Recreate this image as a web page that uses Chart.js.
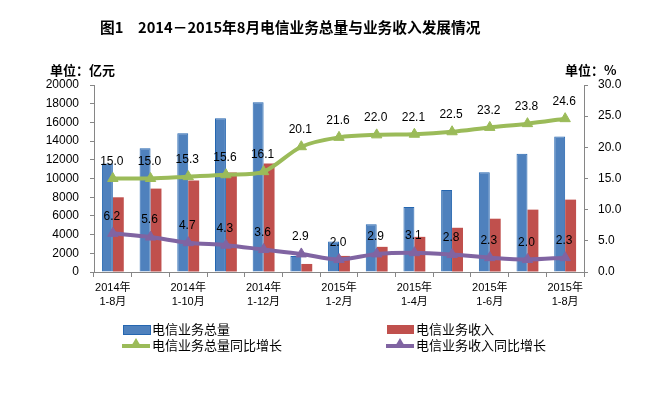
<!DOCTYPE html>
<html>
<head>
<meta charset="utf-8">
<script src="https://cdn.jsdelivr.net/npm/chart.js@4.4.0/dist/chart.umd.min.js"></script>
<style>
  body { margin: 0; background: #fff; font-family: "Noto Sans CJK SC", sans-serif; }
  #wrap { position: relative; width: 664px; height: 396px; }
  canvas { position: absolute; left: 0; top: 0; }
  .txt { position: absolute; white-space: nowrap; color: #000; }
  #title { left: 100px; top: 16px; font-size: 14.7px; font-weight: bold; }
  .unit { top: 60px; font-size: 13px; font-weight: bold; }
  .leg { position: absolute; font-size: 13px; white-space: nowrap; }
  .sw { position: absolute; }
  .tri { position: absolute; width: 0; height: 0; border-left: 6px solid transparent; border-right: 6px solid transparent; }
</style>
</head>
<body>
<div id="wrap">
  <canvas id="c" width="664" height="396"></canvas>
  <div class="txt" id="title">图1　2014－2015年8月电信业务总量与业务收入发展情况</div>
  <div class="txt unit" style="left:50px;">单位：亿元</div>
  <div class="txt unit" style="left:565px;">单位：%</div>

  <div class="sw" style="left:123px;top:325px;width:26px;height:8px;background:#4F81BD;border:1px solid #2566B0;"></div>
  <div class="leg" style="left:152px;top:319px;">电信业务总量</div>
  <div class="sw" style="left:387px;top:325px;width:27px;height:9px;background:#C0504D;"></div>
  <div class="leg" style="left:416px;top:319px;">电信业务收入</div>

  <div class="sw" style="left:122px;top:344px;width:28px;height:4px;background:#9BBB59;"></div>
  <div class="tri" style="left:130px;top:338px;border-bottom:10px solid #9BBB59;"></div>
  <div class="leg" style="left:152px;top:335px;">电信业务总量同比增长</div>
  <div class="sw" style="left:386px;top:344px;width:28px;height:4px;background:#8064A2;"></div>
  <div class="tri" style="left:394px;top:338px;border-bottom:10px solid #8064A2;"></div>
  <div class="leg" style="left:416px;top:335px;">电信业务收入同比增长</div>
</div>
<script>
const months = [
  ["2014年", "1-8月"], ["2014年", "1-9月"], ["2014年", "1-10月"], ["2014年", "1-11月"], ["2014年", "1-12月"],
  ["2015年", "1月"], ["2015年", "1-2月"], ["2015年", "1-3月"], ["2015年", "1-4月"], ["2015年", "1-5月"],
  ["2015年", "1-6月"], ["2015年", "1-7月"], ["2015年", "1-8月"]
];
const businessTotal = [11600, 13230, 14830, 16440, 18150, 1710, 3260, 5120, 6950, 8780, 10680, 12650, 14500];
const businessIncome = [7990, 8920, 9790, 10650, 11610, 860, 1720, 2690, 3760, 4730, 5700, 6670, 7740];
const totalGrowth = [15.0, 15.0, 15.3, 15.6, 16.1, 20.1, 21.6, 22.0, 22.1, 22.5, 23.2, 23.8, 24.6];
const incomeGrowth = [6.2, 5.6, 4.7, 4.3, 3.6, 2.9, 2.0, 2.9, 3.1, 2.8, 2.3, 2.0, 2.3];

const ctx = document.getElementById("c").getContext("2d");

// labels above the line points
const pointLabels = {
  id: "pointLabels",
  afterDatasetsDraw(chart) {
    const c = chart.ctx;
    c.save();
    c.font = "12px 'Liberation Sans', Arial, sans-serif";
    c.fillStyle = "#000";
    c.textAlign = "center";
    c.textBaseline = "middle";
    chart.data.datasets.forEach((ds, i) => {
      if (ds.type !== "line") return;
      chart.getDatasetMeta(i).data.forEach((pt, j) => {
        c.fillText(ds.data[j].toFixed(1), pt.x - 1, pt.y - 17);
      });
    });
    c.restore();
  }
};

const axisColor = "#868686";
const tickFont = { family: "'Liberation Sans', Arial, sans-serif", size: 12 };

const chart = new Chart(ctx, {
  data: {
    labels: months,
    datasets: [
      {
        type: "line",
        label: "电信业务总量同比增长",
        data: totalGrowth,
        yAxisID: "y1",
        borderColor: "#9BBB59",
        backgroundColor: "#9BBB59",
        borderWidth: 4,
        tension: 0.3,
        pointStyle: "triangle",
        pointRadius: 6,
        pointBorderWidth: 1,
        order: 1
      },
      {
        type: "line",
        label: "电信业务收入同比增长",
        data: incomeGrowth,
        yAxisID: "y1",
        borderColor: "#8064A2",
        backgroundColor: "#8064A2",
        borderWidth: 4,
        tension: 0.3,
        pointStyle: "triangle",
        pointRadius: 6,
        pointBorderWidth: 1,
        order: 1
      },
      {
        type: "bar",
        label: "电信业务总量",
        data: businessTotal,
        yAxisID: "y",
        backgroundColor: "#4F81BD",
        borderColor: "#2566B0",
        borderWidth: 1,
        categoryPercentage: 0.58,
        barPercentage: 1,
        order: 2
      },
      {
        type: "bar",
        label: "电信业务收入",
        data: businessIncome,
        yAxisID: "y",
        backgroundColor: "#C0504D",
        borderWidth: 0,
        categoryPercentage: 0.58,
        barPercentage: 1,
        order: 2
      }
    ]
  },
  options: {
    responsive: false,
    animation: false,
    devicePixelRatio: 1,
    layout: { padding: { top: 85, left: 0, right: 0, bottom: 0 } },
    plugins: {
      legend: { display: false },
      title: { display: false },
      tooltip: { enabled: false }
    },
    scales: {
      x: {
        offset: true,
        grid: { display: true, drawOnChartArea: false, offset: true, tickLength: 5, color: axisColor },
        border: { color: axisColor },
        ticks: {
          autoSkip: false,
          maxRotation: 0,
          padding: 4,
          color: "#000",
          font: { family: "'Liberation Sans', 'Noto Sans CJK SC', sans-serif", size: 11, lineHeight: 1.3 },
          callback: function (v, i) {
            return i % 2 === 0 ? this.getLabelForValue(v) : "";
          }
        },
        afterFit(scale) { scale.height = 124; }
      },
      y: {
        position: "left",
        min: 0,
        max: 20000,
        grid: { display: true, drawOnChartArea: false, tickLength: 4, color: axisColor },
        border: { color: axisColor },
        ticks: { stepSize: 2000, padding: 11, color: "#000", font: tickFont, callback: (v) => String(v) },
        afterFit(scale) { scale.width = 94; }
      },
      y1: {
        position: "right",
        min: 0,
        max: 30,
        grid: { display: true, drawOnChartArea: false, tickLength: 4, color: axisColor },
        border: { color: axisColor },
        ticks: {
          stepSize: 5,
          padding: 10,
          color: "#000",
          font: tickFont,
          callback: (v) => v.toFixed(1)
        },
        afterFit(scale) { scale.width = 80; }
      }
    }
  },
  plugins: [pointLabels]
});
</script>
</body>
</html>
